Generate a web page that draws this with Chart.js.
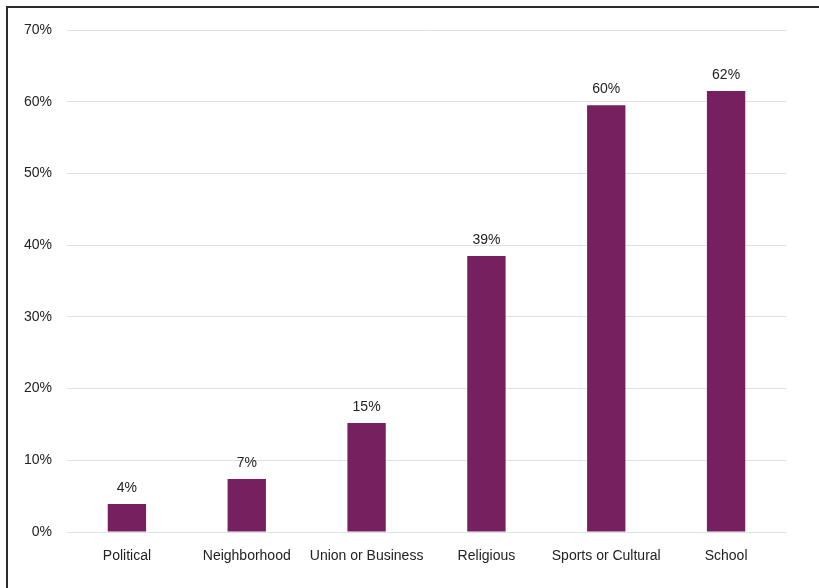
<!DOCTYPE html>
<html>
<head>
<meta charset="utf-8">
<script src="https://cdn.jsdelivr.net/npm/chart.js@4"></script>
<style>
  html, body { margin: 0; padding: 0; background: #fff; overflow: hidden; }
  #frame { position: absolute; left: 6px; top: 6px; width: 830px; height: 600px; border: 2px solid #2b2b2b; box-sizing: border-box; }
  #wrap { position: absolute; left: 0; top: 0; width: 819px; height: 588px; }
</style>
</head>
<body>
<div id="frame"></div>
<div id="wrap"><canvas id="chart"></canvas></div>
<script>
// values (percent)
const categories = ['Political', 'Neighborhood', 'Union or Business', 'Religious', 'Sports or Cultural', 'School'];
const values = [3.9, 7.4, 15.2, 38.5, 59.5, 61.5];
const valueLabels = ['4%', '7%', '15%', '39%', '60%', '62%'];
const yTicks = [0, 10, 20, 30, 40, 50, 60, 70];

const barColor = '#76205f';
const textColor = '#222222';
const font = { family: '"Liberation Sans", Arial, sans-serif', size: 14 };

// labels above each bar
const barLabels = {
  id: 'barLabels',
  afterDatasetsDraw(chart) {
    const { ctx } = chart;
    const meta = chart.getDatasetMeta(0);
    ctx.save();
    ctx.font = `${font.size}px ${font.family}`;
    ctx.fillStyle = textColor;
    ctx.textAlign = 'center';
    ctx.textBaseline = 'bottom';
    meta.data.forEach((bar, i) => {
      ctx.fillText(valueLabels[i], bar.x, bar.y - 9);
    });
    ctx.restore();
  }
};

new Chart(document.getElementById('chart'), {
  type: 'bar',
  data: {
    labels: categories,
    datasets: [{
      data: values,
      backgroundColor: barColor,
      borderWidth: 0,
      categoryPercentage: 1,
      barPercentage: 0.32,
    }]
  },
  options: {
    responsive: true,
    maintainAspectRatio: false,
    animation: false,
    layout: { padding: { left: 0, right: 33, top: 30, bottom: 0 } },
    plugins: { legend: { display: false }, tooltip: { enabled: false } },
    scales: {
      x: {
        grid: { display: false },
        border: { display: false },
        ticks: { color: textColor, font, padding: 8 },
        afterFit(scale) { scale.height = 56; }
      },
      y: {
        min: 0,
        max: 70,
        afterBuildTicks(scale) { scale.ticks = yTicks.map(v => ({ value: v })); },
        grid: { color: '#e0e0e0', drawTicks: false, lineWidth: 1 },
        border: { display: false },
        ticks: { color: textColor, font, padding: 15, callback: v => v + '%' },
        afterFit(scale) { scale.width = 67; }
      }
    }
  },
  plugins: [barLabels]
});
</script>
</body>
</html>
